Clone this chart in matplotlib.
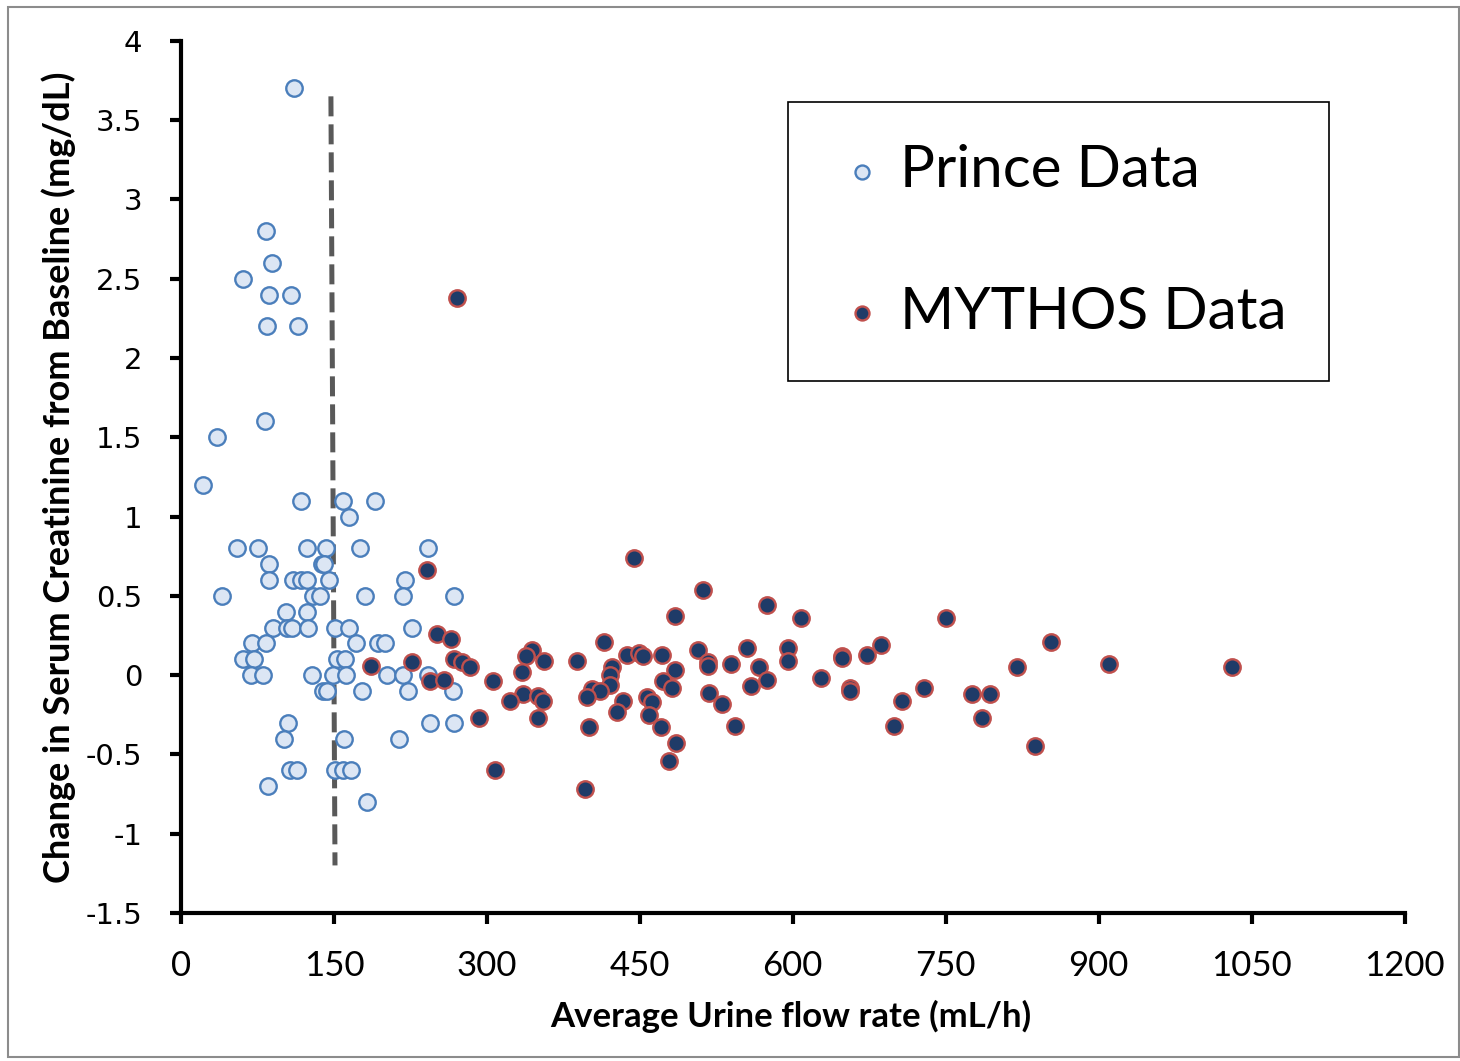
import matplotlib.pyplot as plt
from matplotlib.patches import Rectangle

plt.rcParams['axes.unicode_minus'] = False

# Prince cohort: average urine flow (mL/h) vs change in serum creatinine (mg/dL)
prince_flow = [111, 83, 89, 61, 86, 108, 84, 115, 82, 35, 22,
               118, 159, 190, 165,
               55, 75, 124, 142, 176, 242,
               86, 138, 140,
               86, 110, 118, 124, 145, 220,
               40, 129, 136, 180, 218, 268,
               103, 124,
               90, 104, 109, 125, 151, 165, 227,
               70, 83, 172, 193, 200,
               61, 72, 153, 161,
               69, 80, 128, 149, 162, 202, 218, 242,
               139, 143, 177, 223, 267,
               105, 244, 268,
               101, 160, 214,
               107, 114, 151, 159, 167,
               85, 182]
prince_dscr = [3.7, 2.8, 2.6, 2.5, 2.4, 2.4, 2.2, 2.2, 1.6, 1.5, 1.2,
               1.1, 1.1, 1.1, 1.0,
               0.8, 0.8, 0.8, 0.8, 0.8, 0.8,
               0.7, 0.7, 0.7,
               0.6, 0.6, 0.6, 0.6, 0.6, 0.6,
               0.5, 0.5, 0.5, 0.5, 0.5, 0.5,
               0.4, 0.4,
               0.3, 0.3, 0.3, 0.3, 0.3, 0.3, 0.3,
               0.2, 0.2, 0.2, 0.2, 0.2,
               0.1, 0.1, 0.1, 0.1,
               0.0, 0.0, 0.0, 0.0, 0.0, 0.0, 0.0, 0.0,
               -0.1, -0.1, -0.1, -0.1, -0.1,
               -0.3, -0.3, -0.3,
               -0.4, -0.4, -0.4,
               -0.6, -0.6, -0.6, -0.6, -0.6,
               -0.7, -0.8]

# MYTHOS cohort
mythos_flow = [271, 444, 241, 512, 575, 484, 608, 750,
               251, 265, 415, 853, 687, 344, 507, 555, 595,
               338, 437, 449, 453, 472, 673, 648, 648,
               227, 268, 276, 283, 186, 356, 388, 595,
               517, 517, 539, 567, 423, 910, 820, 1031,
               334, 484, 421,
               244, 258, 306, 473, 575, 628, 421, 559,
               482, 403, 411, 656, 656, 729, 518,
               335, 776, 793, 398, 350, 457,
               323, 355, 433, 462, 707, 531,
               428, 459, 350, 292, 786,
               543, 699, 471, 400,
               485, 838, 479, 308, 396]
mythos_dscr = [2.38, 0.74, 0.66, 0.54, 0.44, 0.37, 0.36, 0.36,
               0.26, 0.23, 0.21, 0.21, 0.19, 0.16, 0.16, 0.17, 0.17,
               0.12, 0.13, 0.14, 0.12, 0.13, 0.13, 0.12, 0.11,
               0.08, 0.10, 0.08, 0.05, 0.06, 0.09, 0.09, 0.09,
               0.08, 0.06, 0.07, 0.05, 0.05, 0.07, 0.05, 0.05,
               0.02, 0.03, 0.0,
               -0.04, -0.03, -0.04, -0.04, -0.03, -0.02, -0.06, -0.07,
               -0.08, -0.09, -0.10, -0.08, -0.10, -0.08, -0.11,
               -0.12, -0.12, -0.12, -0.14, -0.13, -0.14,
               -0.16, -0.16, -0.16, -0.17, -0.16, -0.18,
               -0.23, -0.25, -0.27, -0.27, -0.27,
               -0.32, -0.32, -0.33, -0.33,
               -0.43, -0.45, -0.54, -0.60, -0.72]

# 150 mL/h cut-off line
cutoff_x = [147, 151]
cutoff_y = [3.65, -1.2]

x_ticks = [0, 150, 300, 450, 600, 750, 900, 1050, 1200]
y_ticks = [-1.5, -1, -0.5, 0, 0.5, 1, 1.5, 2, 2.5, 3, 3.5, 4]
y_labels = ['-1.5', '-1', '-0.5', '0', '0.5', '1', '1.5', '2', '2.5', '3', '3.5', '4']

fig = plt.figure(figsize=(14.6, 10.61), dpi=100)
ax = fig.add_axes([0.124, 0.1395, 0.838, 0.822])

ax.scatter(prince_flow, prince_dscr, s=140, facecolor='#dce6f4',
           edgecolor='#4a7ebb', linewidth=1.7, label='Prince Data', zorder=3)
ax.scatter(mythos_flow, mythos_dscr, s=140, facecolor='#1f3b68',
           edgecolor='#c0504d', linewidth=1.7, label='MYTHOS Data', zorder=4)
ax.plot(cutoff_x, cutoff_y, color='#595959', linewidth=3.6,
        linestyle=(0, (4, 1.6)), zorder=2)

ax.set_xlim(0, 1200)
ax.set_ylim(-1.5, 4)
ax.set_xticks(x_ticks)
ax.set_yticks(y_ticks)
ax.set_yticklabels(y_labels)

for s in ['top', 'right']:
    ax.spines[s].set_visible(False)
for s in ['left', 'bottom']:
    ax.spines[s].set_linewidth(3)
ax.tick_params(axis='both', direction='out', length=8, width=3, color='black')
ax.tick_params(axis='y', pad=20, labelsize=21)
ax.tick_params(axis='x', pad=19)
for t in ax.get_yticklabels():
    t.set_family('DejaVu Sans')
for t in ax.get_xticklabels():
    t.set_family('Lato')
    t.set_fontsize(25)

ax.set_xlabel('Average Urine flow rate (mL/h)', fontsize=25, fontweight='bold',
              family='Lato')
ax.xaxis.label.set_va('center')
ax.xaxis.set_label_coords(0.498, -0.119)
ax.set_ylabel('Change in Serum Creatinine from Baseline (mg/dL)', fontsize=26,
              fontweight='bold', family='Lato')
ax.yaxis.label.set_va('center')
ax.yaxis.set_label_coords(-0.0997, 0.5)

leg = ax.legend(loc='upper left', bbox_to_anchor=(788 / 1460, 1 - 102 / 1061),
                bbox_transform=fig.transFigure, borderaxespad=0,
                prop={'family': 'Lato', 'size': 42}, markerscale=0.85,
                labelspacing=1.52, borderpad=0.72, handlelength=1.1,
                handletextpad=0.1, fancybox=False, framealpha=1,
                edgecolor='black')
leg.get_frame().set_linewidth(1.2)

# thin grey border round the whole figure
fig.patches.append(Rectangle((0.0055, 0.004), 0.9935, 0.989,
                             transform=fig.transFigure, fill=False,
                             edgecolor='#8c8c8c', linewidth=1.5))

fig.savefig('out.png', dpi=100)
